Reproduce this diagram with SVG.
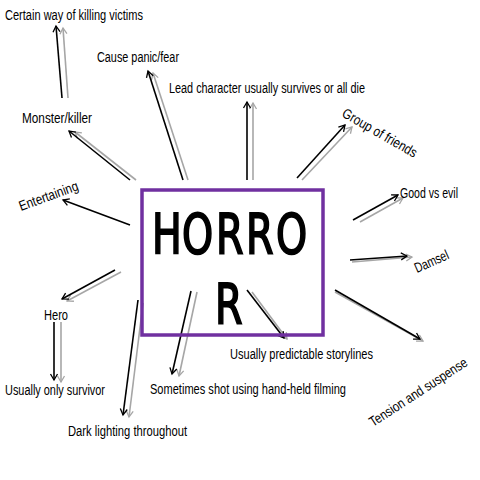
<svg xmlns="http://www.w3.org/2000/svg" width="480" height="480" viewBox="0 0 480 480">
<defs>
<marker id="hb" markerUnits="userSpaceOnUse" markerWidth="12" markerHeight="12" refX="0" refY="0" viewBox="-8 -6 10 12" orient="auto"><path d="M-6,-3.5 L0,0 L-6,3.5" fill="none" stroke="#000" stroke-width="1.3"/></marker>
<marker id="hg" markerUnits="userSpaceOnUse" markerWidth="12" markerHeight="12" refX="0" refY="0" viewBox="-8 -6 10 12" orient="auto"><path d="M-6,-3.5 L0,0 L-6,3.5" fill="none" stroke="#a6a6a6" stroke-width="1.3"/></marker>
<style>
.b{stroke:#000;stroke-width:1.6;fill:none;marker-end:url(#hb)}
.g{stroke:#a6a6a6;stroke-width:1.6;fill:none;marker-end:url(#hg)}
.t{font-family:"Liberation Sans Narrow","Liberation Sans",Arial,sans-serif;font-size:14px;fill:#000}
.big{font-family:"DejaVu Sans Condensed","DejaVu Sans",sans-serif;font-size:55px;fill:#000;stroke:#000;stroke-width:1.8}
</style>
</defs>
<rect width="480" height="480" fill="#fff"/>
<g id="connectors">
<line class="g" x1="68" y1="98" x2="63" y2="28"/><line class="b" x1="62" y1="98" x2="56" y2="26"/>
<line class="g" x1="188" y1="180" x2="153" y2="73"/><line class="b" x1="183" y1="180" x2="148" y2="71"/>
<line class="g" x1="136" y1="180" x2="75" y2="132"/><line class="b" x1="130" y1="180" x2="69" y2="131"/>
<line class="g" x1="253" y1="180" x2="253" y2="103"/><line class="b" x1="247" y1="180" x2="247" y2="102"/>
<line class="g" x1="302" y1="180" x2="352" y2="127"/><line class="b" x1="297" y1="178" x2="345" y2="125"/>
<line class="b" x1="130" y1="225" x2="63" y2="200"/>
<line class="g" x1="360" y1="222" x2="403" y2="198"/><line class="b" x1="353" y1="220" x2="398" y2="195"/>
<line class="g" x1="352" y1="262" x2="412" y2="257"/><line class="b" x1="350" y1="260" x2="407" y2="256"/>
<line class="g" x1="335" y1="292" x2="423" y2="341"/><line class="b" x1="335" y1="290" x2="420" y2="339"/>
<line class="g" x1="252" y1="292" x2="287" y2="339"/><line class="b" x1="247" y1="290" x2="284" y2="338"/>
<line class="g" x1="197" y1="292" x2="179" y2="376"/><line class="b" x1="191" y1="291" x2="172" y2="374"/>
<line class="g" x1="143" y1="303" x2="129" y2="417"/><line class="b" x1="138" y1="300" x2="123" y2="415"/>
<line class="g" x1="121" y1="272" x2="67" y2="301"/><line class="b" x1="115" y1="270" x2="62" y2="299"/>
<line class="g" x1="61" y1="322" x2="61" y2="382"/><line class="b" x1="54" y1="322" x2="54" y2="380"/>
</g>
<g id="horror">
<rect x="142" y="190" width="181" height="145" fill="none" stroke="#7030a0" stroke-width="3.5"/>
<text class="big" transform="translate(152,253) scale(0.8,1)" x="0 37.5 80 117.5 155">HORRO</text>
<text class="big" transform="translate(215,323) scale(0.8,1)" x="0">R</text>
</g>
<g id="n-certain"><text class="t" x="5" y="20" textLength="138" lengthAdjust="spacingAndGlyphs">Certain way of killing victims</text></g>
<g id="n-cause"><text class="t" x="97" y="62" textLength="82" lengthAdjust="spacingAndGlyphs">Cause panic/fear</text></g>
<g id="n-monster"><text class="t" x="22" y="123" textLength="70" lengthAdjust="spacingAndGlyphs">Monster/killer</text></g>
<g id="n-lead"><text class="t" x="169" y="93" textLength="196" lengthAdjust="spacingAndGlyphs">Lead character usually survives or all die</text></g>
<g id="n-group"><text class="t" transform="translate(341,116) rotate(30)" textLength="84" lengthAdjust="spacingAndGlyphs">Group of friends</text></g>
<g id="n-entertaining"><text class="t" transform="translate(21,211) rotate(-20)" textLength="62" lengthAdjust="spacingAndGlyphs">Entertaining</text></g>
<g id="n-good"><text class="t" x="400" y="198" textLength="58" lengthAdjust="spacingAndGlyphs">Good vs evil</text></g>
<g id="n-damsel"><text class="t" transform="translate(417,273) rotate(-24)" textLength="36" lengthAdjust="spacingAndGlyphs">Damsel</text></g>
<g id="n-tension"><text class="t" transform="translate(373,427) rotate(-33)" textLength="114" lengthAdjust="spacingAndGlyphs">Tension and suspense</text></g>
<g id="n-predictable"><text class="t" x="230" y="359" textLength="143" lengthAdjust="spacingAndGlyphs">Usually predictable storylines</text></g>
<g id="n-sometimes"><text class="t" x="150" y="394" textLength="196" lengthAdjust="spacingAndGlyphs">Sometimes shot using hand-held filming</text></g>
<g id="n-dark"><text class="t" x="68" y="436" textLength="119" lengthAdjust="spacingAndGlyphs">Dark lighting throughout</text></g>
<g id="n-hero"><text class="t" x="44" y="320" textLength="24" lengthAdjust="spacingAndGlyphs">Hero</text></g>
<g id="n-survivor"><text class="t" x="5" y="395" textLength="100" lengthAdjust="spacingAndGlyphs">Usually only survivor</text></g>
</svg>
